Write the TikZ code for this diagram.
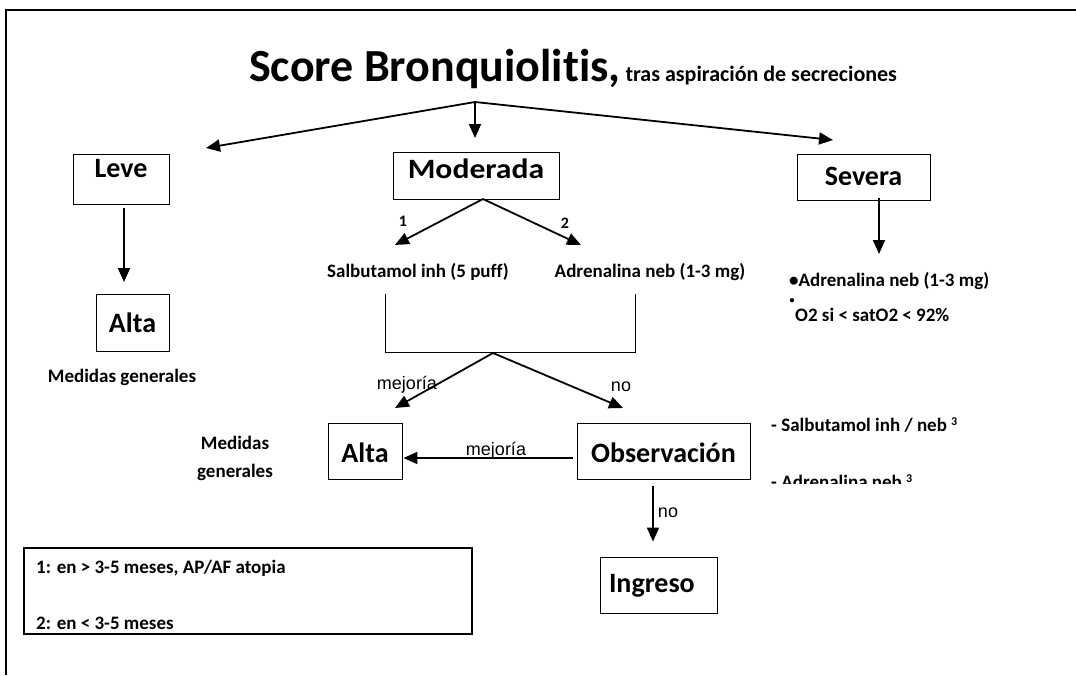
\documentclass[tikz,border=0pt]{standalone}
\usepackage{fontspec}
\setmainfont{Carlito}[Ligatures={NoCommon,NoRare}]
\newfontfamily\arialf{Liberation Sans}
\usetikzlibrary{arrows.meta}
\tikzset{
  x=1pt, y=-1pt,
  arr/.style={line width=1.8pt, -{Triangle[length=14pt,width=12pt]}},
  box/.style={draw, line width=0.9pt, inner sep=0pt, font=\fontsize{28}{32}\selectfont\bfseries},
  small/.style={inner sep=0pt, font=\fontsize{19}{22}\selectfont\bfseries},
  lab/.style={inner sep=0pt, font=\fontsize{18}{20}\selectfont\arialf},
}
\begin{document}
\begin{tikzpicture}
\useasboundingbox (0,0) rectangle (1076,675);
\fill[white] (0,0) rectangle (1076,675);
% frame
\draw[line width=1.5pt] (6,675) -- (6,10) -- (1076,10);
% title
\node[inner sep=0pt, anchor=base west] (title) at (249,81)
  {\bfseries{\fontsize{46}{50}\selectfont Score Bronquiolitis,}{\fontsize{22}{24}\selectfont\ tras aspiración de secreciones}};
\coordinate (j) at (475,102);
\coordinate (jl) at (206,148);
\coordinate (jm) at (475,138);
\coordinate (jr) at (833,140);
% boxes
\node[box, minimum width=96pt, minimum height=50pt, text height=23pt, text depth=27pt] (leve) at (121,179) {Leve};
\node[box, minimum width=73pt, minimum height=57pt, text height=38pt, text depth=19pt] (alta1) at (132.5,322.5) {Alta};
\node[box, minimum width=166pt, minimum height=47pt, text height=26pt, text depth=21pt] (mod) at (476,175.5) {\scalebox{1.13}[1]{Moderada}};
\node[box, minimum width=133pt, minimum height=46pt, text height=31pt, text depth=15pt] (sev) at (863.5,177) {Severa};
\node[box, minimum width=74pt, minimum height=56pt, text height=39pt, text depth=17pt] (alta2) at (365,451) {Alta};
\node[box, minimum width=173pt, minimum height=56pt, text height=39pt, text depth=17pt] (obs) at (663.5,451) {Observación};
\node[box, minimum height=56pt, text height=35pt, text depth=21pt, text width=99pt, inner xsep=9pt, align=left] (ing) at (658.5,585) {Ingreso};
% top arrows
\draw[arr] (j) -- (jl);
\draw[arr] (j) -- (jm);
\draw[arr] (j) -- (jr);
% leve
\coordinate (lv1) at (124,208);
\coordinate (lv2) at (124,282);
\draw[arr] (lv1) -- (lv2);
\node[small, anchor=base] (mg1) at (122,382) {Medidas generales};
% moderada
\coordinate (m0) at (483,199);
\coordinate (m1) at (395,245);
\coordinate (m2) at (581,245);
\draw[arr] (m0) -- (m1);
\draw[arr] (m0) -- (m2);
\node[inner sep=0pt, font=\fontsize{16}{18}\selectfont\bfseries, anchor=base] (n1) at (403,226) {1};
\node[inner sep=0pt, font=\fontsize{16}{18}\selectfont\bfseries, anchor=base] (n2) at (565,228) {2};
\node[small, anchor=base] (salb) at (418,277) {Salbutamol inh (5 puff)};
\node[small, anchor=base] (adr) at (650,277) {Adrenalina neb (1-3 mg)};
% bracket
\coordinate (b1) at (385,294);
\coordinate (b2) at (385,352);
\coordinate (b3) at (635,352);
\coordinate (b4) at (635,294);
\draw[line width=1pt] (b1) -- (b2) -- (b3) -- (b4);
\coordinate (b0) at (493,353);
\coordinate (bl) at (395,408);
\coordinate (br) at (623,408);
\draw[arr] (b0) -- (bl);
\draw[arr] (b0) -- (br);
\node[lab, anchor=base] (mej1) at (407,389) {mejoría};
\node[lab, anchor=base] (no1) at (621,391) {no};
% middle row
\node[small, align=center, anchor=center, font=\fontsize{19}{28}\selectfont\bfseries] (mg2) at (235,458) {Medidas\\generales};
\draw[arr] ([shift={(-4,7)}]obs.west) -- ([shift={(1,7)}]alta2.east);
\node[lab, anchor=base] (mej2) at (496,455) {mejoría};
\draw[arr] ([shift={(-10.5,7)}]obs.south) -- ([shift={(-5.5,-15)}]ing.north);
\node[lab, anchor=base] (no2) at (668,517) {no};
% severa
\coordinate (s1) at (879,198);
\coordinate (s2) at (879,254);
\draw[arr] (s1) -- (s2);
\node[small, anchor=base west] (sv1) at (789,286) {•Adrenalina neb (1-3 mg)};
\node[inner sep=0pt, font=\fontsize{10}{12}\selectfont\bfseries, anchor=base] (sv0) at (792,303) {•};
\node[small, anchor=base west] (sv2) at (795,321) {O2 si < satO2 < 92\%};
% right notes
\node[small, anchor=base west] (r1) at (771,431) {- Salbutamol inh / neb \raisebox{6pt}{\fontsize{12}{14}\selectfont 3}};
\begin{scope}
\clip (760,400) rectangle (1000,483);
\node[small, anchor=base west] (r2) at (771,488) {- Adrenalina neb \raisebox{6pt}{\fontsize{12}{14}\selectfont 3}};
\end{scope}
% legend
\node[draw, line width=1.6pt, minimum width=448pt, minimum height=86pt, inner sep=0pt] (leg) at (248,591) {};
\node[small, anchor=base west] (leg1) at (36,573) {1: en > 3-5 meses, AP/AF atopia};
\node[small, anchor=base west] (leg2) at (36,629) {2: en < 3-5 meses};
\end{tikzpicture}
\end{document}
